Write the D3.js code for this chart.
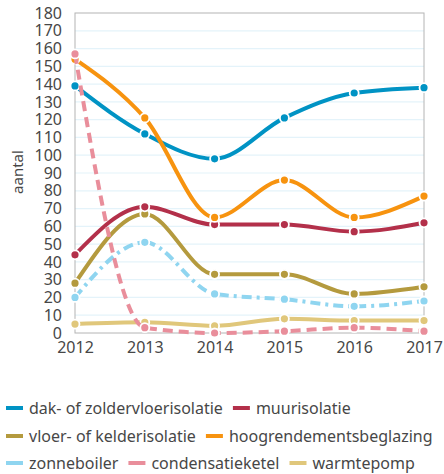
<!DOCTYPE html>
<html>
  <head>
    <script src="https://d3js.org/d3.v7.min.js"></script>
    <style>
      body { margin: 0; background: #fff; }
      text { font-family: "Noto Sans", sans-serif; fill: #474747; }
    </style>
  </head>
  <body>
    <svg id="chart" width="444" height="474"></svg>

    <script>
      // data
      const years = [2012, 2013, 2014, 2015, 2016, 2017];
      const seriesNames = ["dak- of zoldervloerisolatie", "muurisolatie", "vloer- of kelderisolatie",
        "hoogrendementsbeglazing", "zonneboiler", "condensatieketel", "warmtepomp"];
      const dak = [139, 112, 98, 121, 135, 138];
      const muur = [44, 71, 61, 61, 57, 62];
      const vloer = [28, 67, 33, 33, 22, 26];
      const hoog = [154, 121, 65, 86, 65, 77];
      const zonne = [20, 51, 22, 19, 15, 18];
      const condens = [157, 3, 0, 1, 3, 1];
      const warmte = [5, 6, 4, 8, 7, 7];
      const yTicks = [0, 10, 20, 30, 40, 50, 60, 70, 80, 90, 100, 110, 120, 130, 140, 150, 160, 170, 180];

      const colors = ["#0093c4", "#b3304a", "#b49a3e", "#f7930f", "#8fd5f0", "#e98e9b", "#e0c77b"];
      const dashes = [null, null, null, null, "10,5,3,5", "10,6", null];
      const allValues = [dak, muur, vloer, hoog, zonne, condens, warmte];
      // drawing order: bottom first
      const drawOrder = [6, 4, 2, 1, 0, 3, 5];

      const svg = d3.select("#chart");
      const margin = {left: 75, top: 13, right: 20, bottom: 141};
      const width = 444 - margin.left - margin.right;
      const height = 474 - margin.top - margin.bottom;

      const x = d3.scaleLinear().domain([2012, 2017]).range([0, width]);
      const y = d3.scaleLinear().domain([0, 180]).range([height, 0]);

      const g = svg.append("g").attr("transform", "translate(" + margin.left + "," + margin.top + ")");

      // gridlines
      g.selectAll(".grid").data(yTicks.slice(1, -1)).enter()
        .append("line")
        .attr("x1", 0).attr("x2", width)
        .attr("y1", d => y(d)).attr("y2", d => y(d))
        .attr("stroke", "#e4f3fa").attr("stroke-width", 1.2);

      // frame
      g.append("rect").attr("x", 0).attr("y", 0).attr("width", width).attr("height", height)
        .attr("fill", "none").attr("stroke", "#b4b4b4").attr("stroke-width", 1);

      // axes
      const yAxis = g.append("g").call(d3.axisLeft(y).tickValues(yTicks).tickSize(0).tickPadding(13));
      yAxis.select(".domain").remove();
      yAxis.selectAll("text").style("font-size", "16px").attr("fill", "#474747");

      const xAxis = g.append("g").attr("transform", "translate(0," + height + ")")
        .call(d3.axisBottom(x).tickValues(years).tickFormat(d3.format("d")).tickSize(0).tickPadding(9));
      xAxis.select(".domain").remove();
      xAxis.selectAll("text").style("font-size", "16px").attr("fill", "#474747");

      svg.append("text")
        .attr("transform", "translate(23,172) rotate(-90)")
        .attr("text-anchor", "middle")
        .style("font-size", "15px")
        .text("aantal");

      const line = d3.line()
        .x((d, i) => x(years[i]))
        .y(d => y(d))
        .curve(d3.curveMonotoneX);

      drawOrder.forEach(function(s) {
        g.append("path")
          .attr("d", line(allValues[s]))
          .attr("fill", "none")
          .attr("stroke", colors[s])
          .attr("stroke-width", 4)
          .attr("stroke-dasharray", dashes[s]);
        g.selectAll(".m" + s).data(allValues[s]).enter()
          .append("circle")
          .attr("cx", (d, i) => x(years[i]))
          .attr("cy", d => y(d))
          .attr("r", 4.5)
          .attr("fill", colors[s])
          .attr("stroke", "#fff")
          .attr("stroke-width", 1.8);
      });

      // legend, three rows flowing left to right
      const legendRows = [[0, 1], [2, 3], [4, 5, 6]];
      const rowY = [408, 436, 463];
      legendRows.forEach(function(row, r) {
        let cx = 6;
        row.forEach(function(s) {
          const item = svg.append("g").attr("transform", "translate(" + cx + "," + rowY[r] + ")");
          item.append("line").attr("x1", 0).attr("x2", 17).attr("y1", 0).attr("y2", 0)
            .attr("stroke", colors[s]).attr("stroke-width", 4);
          const t = item.append("text").attr("x", 23).attr("y", 6)
            .style("font-size", "16px").text(seriesNames[s]);
          cx += 23 + t.node().getComputedTextLength() + 10;
        });
      });
    </script>
  </body>
</html>
